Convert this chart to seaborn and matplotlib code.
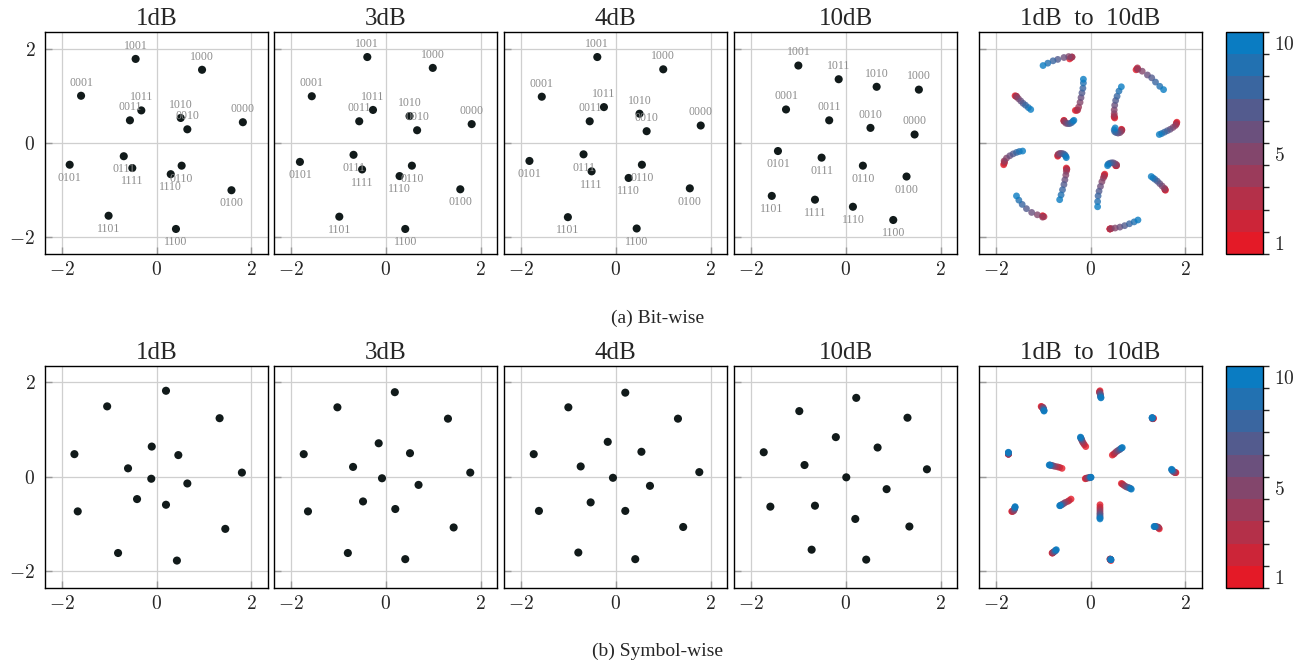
import numpy as np
import pandas as pd
import matplotlib
matplotlib.use('Agg')
import matplotlib.pyplot as plt
import seaborn as sns
from matplotlib.colors import ListedColormap, BoundaryNorm, to_rgb
from matplotlib.cm import ScalarMappable

# -------------------------------
# Data
# -------------------------------
snr_db = [1, 2, 3, 4, 5, 6, 7, 8, 9, 10]
panel_db = [1, 3, 4, 10]

bit_labels = ['0000', '0001', '0010', '0011', '0100', '0101', '0110', '0111',
              '1000', '1001', '1010', '1011', '1100', '1101', '1110', '1111']

# rows = bit label, columns = SNR 1..10 dB
bit_x = [
    [1.82, 1.81, 1.81, 1.79, 1.74, 1.68, 1.62, 1.56, 1.50, 1.45],
    [-1.59, -1.57, -1.56, -1.56, -1.52, -1.47, -1.42, -1.37, -1.31, -1.26],
    [0.65, 0.66, 0.66, 0.65, 0.62, 0.58, 0.54, 0.51, 0.50, 0.52],
    [-0.56, -0.56, -0.56, -0.55, -0.52, -0.48, -0.44, -0.40, -0.37, -0.35],
    [1.58, 1.57, 1.57, 1.56, 1.51, 1.46, 1.41, 1.36, 1.32, 1.28],
    [-1.83, -1.82, -1.81, -1.82, -1.77, -1.70, -1.63, -1.56, -1.50, -1.43],
    [0.53, 0.54, 0.55, 0.55, 0.52, 0.48, 0.44, 0.40, 0.37, 0.36],
    [-0.69, -0.69, -0.68, -0.68, -0.65, -0.61, -0.57, -0.54, -0.52, -0.51],
    [0.96, 0.98, 0.99, 1.00, 1.09, 1.20, 1.29, 1.37, 1.46, 1.54],
    [-0.44, -0.41, -0.39, -0.39, -0.46, -0.56, -0.69, -0.79, -0.90, -1.00],
    [0.51, 0.50, 0.50, 0.50, 0.50, 0.51, 0.53, 0.56, 0.60, 0.65],
    [-0.32, -0.29, -0.27, -0.25, -0.22, -0.20, -0.18, -0.16, -0.15, -0.15],
    [0.41, 0.41, 0.41, 0.44, 0.52, 0.62, 0.72, 0.82, 0.92, 1.00],
    [-1.01, -1.00, -0.98, -1.01, -1.12, -1.24, -1.35, -1.44, -1.51, -1.56],
    [0.30, 0.29, 0.29, 0.27, 0.24, 0.21, 0.18, 0.16, 0.15, 0.15],
    [-0.51, -0.50, -0.50, -0.51, -0.52, -0.54, -0.56, -0.59, -0.62, -0.65],
]
bit_y = [
    [0.44, 0.42, 0.40, 0.37, 0.33, 0.29, 0.26, 0.23, 0.20, 0.18],
    [1.00, 0.99, 0.99, 0.98, 0.94, 0.89, 0.84, 0.80, 0.75, 0.71],
    [0.29, 0.28, 0.27, 0.25, 0.22, 0.21, 0.22, 0.24, 0.28, 0.32],
    [0.48, 0.47, 0.46, 0.46, 0.42, 0.41, 0.41, 0.43, 0.46, 0.48],
    [-1.00, -0.99, -0.98, -0.96, -0.91, -0.86, -0.81, -0.77, -0.74, -0.71],
    [-0.46, -0.43, -0.40, -0.38, -0.32, -0.27, -0.23, -0.20, -0.18, -0.17],
    [-0.48, -0.48, -0.48, -0.46, -0.44, -0.42, -0.42, -0.43, -0.45, -0.48],
    [-0.28, -0.26, -0.25, -0.24, -0.22, -0.22, -0.23, -0.25, -0.28, -0.31],
    [1.55, 1.57, 1.59, 1.56, 1.52, 1.44, 1.38, 1.29, 1.20, 1.13],
    [1.78, 1.81, 1.82, 1.82, 1.83, 1.81, 1.77, 1.74, 1.69, 1.64],
    [0.53, 0.55, 0.57, 0.62, 0.70, 0.80, 0.90, 0.99, 1.10, 1.19],
    [0.69, 0.69, 0.70, 0.76, 0.86, 0.96, 1.06, 1.16, 1.27, 1.35],
    [-1.82, -1.82, -1.82, -1.81, -1.80, -1.78, -1.75, -1.71, -1.67, -1.63],
    [-1.54, -1.55, -1.56, -1.57, -1.52, -1.47, -1.39, -1.30, -1.21, -1.12],
    [-0.66, -0.68, -0.70, -0.74, -0.82, -0.92, -1.02, -1.12, -1.24, -1.35],
    [-0.53, -0.55, -0.56, -0.60, -0.68, -0.78, -0.88, -0.99, -1.10, -1.20],
]

# symbol-wise constellation, rows = symbol, columns = SNR 1..10 dB
sym_x = [
    [0.20, 0.19, 0.19, 0.20, 0.20, 0.21, 0.21, 0.21, 0.22, 0.22],
    [-1.04, -1.03, -1.02, -1.00, -1.00, -0.99, -0.99, -0.98, -0.98, -0.98],
    [1.33, 1.32, 1.31, 1.31, 1.31, 1.31, 1.30, 1.30, 1.30, 1.30],
    [-0.10, -0.13, -0.15, -0.17, -0.18, -0.19, -0.20, -0.20, -0.21, -0.21],
    [-1.73, -1.73, -1.73, -1.73, -1.73, -1.73, -1.73, -1.73, -1.73, -1.73],
    [0.46, 0.49, 0.51, 0.54, 0.57, 0.60, 0.62, 0.64, 0.66, 0.67],
    [-0.60, -0.65, -0.69, -0.74, -0.78, -0.81, -0.83, -0.85, -0.86, -0.87],
    [1.80, 1.79, 1.78, 1.76, 1.75, 1.74, 1.73, 1.72, 1.71, 1.71],
    [-0.11, -0.10, -0.08, -0.06, -0.04, -0.02, -0.01, 0.00, 0.01, 0.01],
    [0.65, 0.67, 0.69, 0.72, 0.75, 0.78, 0.81, 0.83, 0.85, 0.86],
    [-0.41, -0.45, -0.48, -0.53, -0.56, -0.59, -0.61, -0.63, -0.64, -0.65],
    [0.20, 0.20, 0.20, 0.20, 0.20, 0.20, 0.20, 0.20, 0.20, 0.20],
    [-1.66, -1.65, -1.64, -1.62, -1.61, -1.60, -1.60, -1.59, -1.59, -1.59],
    [1.45, 1.44, 1.43, 1.42, 1.40, 1.38, 1.37, 1.36, 1.35, 1.34],
    [-0.81, -0.80, -0.80, -0.79, -0.78, -0.76, -0.75, -0.74, -0.73, -0.72],
    [0.43, 0.42, 0.41, 0.41, 0.42, 0.42, 0.42, 0.43, 0.43, 0.43],
]
sym_y = [
    [1.82, 1.80, 1.79, 1.78, 1.76, 1.74, 1.72, 1.70, 1.68, 1.67],
    [1.49, 1.48, 1.47, 1.47, 1.45, 1.44, 1.43, 1.41, 1.40, 1.39],
    [1.24, 1.23, 1.23, 1.23, 1.24, 1.24, 1.24, 1.25, 1.25, 1.25],
    [0.64, 0.68, 0.71, 0.74, 0.77, 0.79, 0.81, 0.82, 0.83, 0.84],
    [0.48, 0.48, 0.48, 0.48, 0.49, 0.50, 0.50, 0.51, 0.51, 0.52],
    [0.46, 0.48, 0.50, 0.53, 0.55, 0.57, 0.58, 0.60, 0.61, 0.62],
    [0.18, 0.20, 0.21, 0.22, 0.23, 0.24, 0.24, 0.25, 0.25, 0.25],
    [0.09, 0.09, 0.09, 0.10, 0.11, 0.12, 0.13, 0.14, 0.15, 0.16],
    [-0.04, -0.03, -0.03, -0.02, -0.02, -0.02, -0.01, -0.01, -0.01, -0.01],
    [-0.14, -0.15, -0.17, -0.19, -0.21, -0.22, -0.23, -0.24, -0.25, -0.26],
    [-0.47, -0.50, -0.52, -0.54, -0.56, -0.58, -0.59, -0.60, -0.61, -0.61],
    [-0.59, -0.64, -0.68, -0.72, -0.76, -0.79, -0.82, -0.85, -0.87, -0.89],
    [-0.73, -0.73, -0.73, -0.72, -0.70, -0.68, -0.66, -0.65, -0.64, -0.63],
    [-1.10, -1.08, -1.07, -1.06, -1.06, -1.05, -1.05, -1.05, -1.05, -1.05],
    [-1.61, -1.61, -1.61, -1.60, -1.59, -1.58, -1.57, -1.56, -1.55, -1.54],
    [-1.77, -1.75, -1.74, -1.74, -1.74, -1.74, -1.75, -1.75, -1.75, -1.75],
]

# -------------------------------
# Style
# -------------------------------
sns.set_theme(style='whitegrid')
plt.rcParams['font.family'] = ['Liberation Serif', 'DejaVu Serif']
plt.rcParams['mathtext.fontset'] = 'cm'

dot_color = '#111a1a'
label_color = '#8c8c8c'
red, blue = np.array(to_rgb('#e41a27')), np.array(to_rgb('#0a7cc2'))
cmap = ListedColormap([red + (blue - red) * i / 9 for i in range(10)])
norm = BoundaryNorm(np.arange(0.5, 11, 1), cmap.N)
snr_palette = {d: cmap(norm(d)) for d in snr_db}


def to_long(xs, ys, names):
    rows = []
    for name, rx, ry in zip(names, xs, ys):
        for d, x, y in zip(snr_db, rx, ry):
            rows.append({'name': name, 'snr': d, 'x': x, 'y': y})
    return pd.DataFrame(rows)


bit_df = to_long(bit_x, bit_y, bit_labels)
sym_df = to_long(sym_x, sym_y, [f's{i}' for i in range(len(sym_x))])


def style_axes(ax, first):
    ax.set_xlim(-2.35, 2.35)
    ax.set_ylim(-2.35, 2.35)
    ax.set_xticks([-2, 0, 2])
    ax.set_yticks([-2, 0, 2])
    ax.set_xticklabels(['$-2$', '$0$', '$2$'])
    ax.set_yticklabels(['$-2$', '$0$', '$2$'] if first else [])
    ax.set_xlabel('')
    ax.set_ylabel('')
    ax.set_axisbelow(True)
    ax.grid(True, color='#cfcfcf', linewidth=0.9)
    ax.tick_params(axis='both', direction='in', length=5, width=1.0, color='#999999',
                   labelsize=14, bottom=True, left=True)
    ax.tick_params(axis='x', pad=5)
    ax.tick_params(axis='y', pad=7)
    for sp in ax.spines.values():
        sp.set_color('black')
        sp.set_linewidth(1.0)


W, H = 1315, 666
fig = plt.figure(figsize=(W / 100, H / 100), dpi=100)
lefts = [45, 274.3, 504.3, 734.3, 979]
aw = 223
rows_px = [(32, 254), (365.7, 588)]

for r, (top, bot) in enumerate(rows_px):
    df = bit_df if r == 0 else sym_df
    for i, left in enumerate(lefts):
        ax = fig.add_axes([left / W, 1 - bot / H, aw / W, (bot - top) / H])
        if i < 4:
            d = panel_db[i]
            sub = df[df['snr'] == d]
            sns.scatterplot(data=sub, x='x', y='y', ax=ax, color=dot_color, s=34,
                            edgecolor='none', legend=False, zorder=3)
            if r == 0:
                for _, p in sub.iterrows():
                    off = 9.5 if p['y'] > 0 else -9.5
                    ax.annotate(p['name'], (p['x'], p['y']), xytext=(0, off),
                                textcoords='offset points', ha='center', va='center',
                                fontsize=8.5, color=label_color, zorder=4)
            ax.set_title(f'{d}dB', fontsize=18, pad=5)
        else:
            sns.scatterplot(data=df, x='x', y='y', hue='snr', palette=snr_palette, ax=ax,
                            s=24, alpha=0.8, edgecolor='none', legend=False, zorder=3)
            ax.set_title('1dB  to  10dB', fontsize=18, pad=5)
        style_axes(ax, i == 0)

    cax = fig.add_axes([1226 / W, 1 - bot / H, 37 / W, (bot - top) / H])
    sm = ScalarMappable(norm=norm, cmap=cmap)
    cb = fig.colorbar(sm, cax=cax, ticks=[1, 5, 10])
    cb.ax.set_yticklabels(['$1$', '$5$', '$10$'])
    cb.outline.set_edgecolor('black')
    cb.outline.set_linewidth(1.0)
    cb.ax.tick_params(direction='in', left=True, right=True, length=9, width=1.2,
                      color='#8a8a8a', labelsize=14, pad=8)

fig.text(0.5, 1 - 318 / H, '(a) Bit-wise', ha='center', va='center', fontsize=14)
fig.text(0.5, 1 - 651 / H, '(b) Symbol-wise', ha='center', va='center', fontsize=14)

plt.savefig('out.png', dpi=100)
